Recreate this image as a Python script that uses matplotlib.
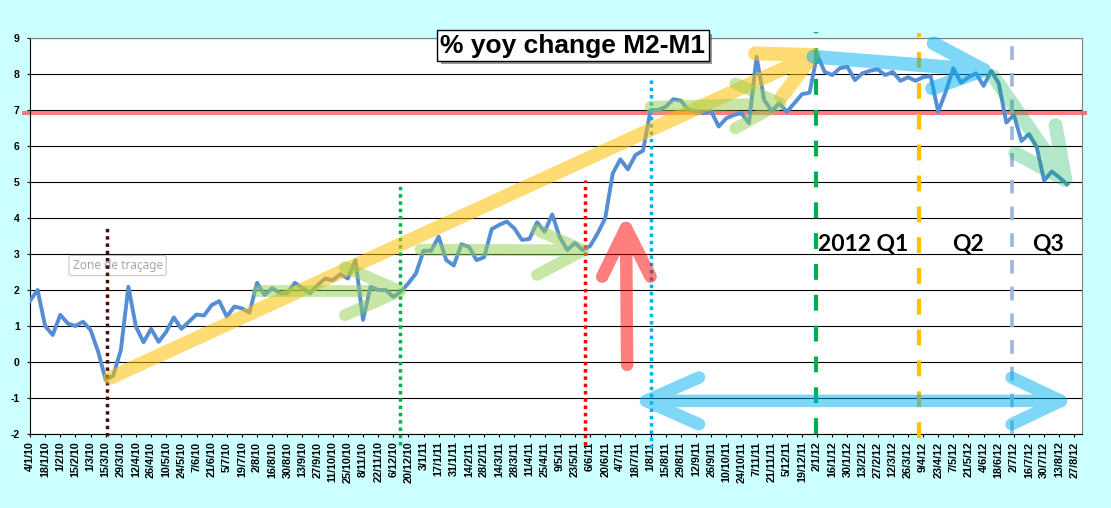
import matplotlib
matplotlib.use("Agg")
import matplotlib.pyplot as plt
import matplotlib.patheffects as pe
from matplotlib.patches import PathPatch
from matplotlib.path import Path

plt.rcParams["font.family"] = ["Liberation Sans", "DejaVu Sans"]

# weekly % yoy change M2-M1, one value per week starting 4/1/10
WEEK_VALUES = [
    1.70, 2.00, 1.00, 0.75, 1.31, 1.07, 1.00, 1.12, 0.89, 0.29,
    -0.50, -0.38, 0.33, 2.09, 0.98, 0.55, 0.92, 0.56, 0.84, 1.24,
    0.92, 1.12, 1.32, 1.29, 1.58, 1.69, 1.26, 1.54, 1.49, 1.37,
    2.20, 1.86, 2.05, 1.91, 1.91, 2.20, 2.05, 1.91, 2.14, 2.32,
    2.27, 2.44, 2.32, 2.83, 1.17, 2.09, 2.00, 2.00, 1.81, 1.95,
    2.19, 2.46, 3.09, 3.09, 3.48, 2.83, 2.68, 3.27, 3.20, 2.83,
    2.91, 3.69, 3.81, 3.90, 3.71, 3.39, 3.42, 3.88, 3.62, 4.10,
    3.46, 3.11, 3.31, 3.11, 3.22, 3.57, 3.99, 5.24, 5.63, 5.35,
    5.75, 5.87, 7.00, 7.00, 7.09, 7.30, 7.26, 7.00, 6.97, 6.91,
    6.97, 6.54, 6.77, 6.86, 6.91, 6.63, 8.48, 7.28, 6.97, 7.19,
    6.95, 7.19, 7.44, 7.48, 8.53, 8.06, 7.97, 8.16, 8.20, 7.83,
    8.02, 8.09, 8.13, 7.97, 8.06, 7.81, 7.91, 7.81, 7.91, 7.94,
    6.95, 7.51, 8.16, 7.76, 7.91, 8.02, 7.67, 8.09, 7.74, 6.65,
    6.86, 6.14, 6.33, 5.98, 5.04, 5.29, 5.13, 4.94,
]

# one label every second week
TICK_LABELS = [
    "4/1/10", "18/1/10", "1/2/10", "15/2/10", "1/3/10", "15/3/10", "29/3/10",
    "12/4/10", "26/4/10", "10/5/10", "24/5/10", "7/6/10", "21/6/10", "5/7/10",
    "19/7/10", "2/8/10", "16/8/10", "30/8/10", "13/9/10", "27/9/10", "11/10/10",
    "25/10/10", "8/11/10", "22/11/10", "6/12/10", "20/12/10",
    "3/1/11", "17/1/11", "31/1/11", "14/2/11", "28/2/11", "14/3/11", "28/3/11",
    "11/4/11", "25/4/11", "9/5/11", "23/5/11", "6/6/11", "20/6/11", "4/7/11",
    "18/7/11", "1/8/11", "15/8/11", "29/8/11", "12/9/11", "26/9/11", "10/10/11",
    "24/10/11", "7/11/11", "21/11/11", "5/12/11", "19/12/11",
    "2/1/12", "16/1/12", "30/1/12", "13/2/12", "27/2/12", "12/3/12", "26/3/12",
    "9/4/12", "23/4/12", "7/5/12", "21/5/12", "4/6/12", "18/6/12", "2/7/12",
    "16/7/12", "30/7/12", "13/8/12", "27/8/12",
]
Y_TICKS = list(range(-2, 10))
THRESHOLD = 6.93

# vertical markers (week position, top, bottom, colour, dashes, width)
MARKER_X = [10.2, 48.9, 73.3, 82.05, 103.8, 117.5, 129.7]
MARKER_TOP = [3.76, 4.92, 5.06, 7.93, 9.17, 9.14, 8.94]
MARKER_BOTTOM = [-2.05, -2.3, -2.3, -2.4, -2.0, -2.1, -2.0]
MARKER_COLORS = ["#4d0a0a", "#00b050", "#ff0000", "#00b0f0", "#00b050", "#ffc000", "#9bb7de"]
MARKER_DASHES = [(1, 1.1), (1, 1.1), (1, 1.1), (1, 1.1), (3.8, 3.6), (3.8, 3.6), (3.8, 3.6)]
MARKER_WIDTHS = [2.5, 2.5, 2.5, 2.5, 3.0, 3.0, 2.6]

# highlighter arrows: shaft start, tip, head ends, colour, alpha, width
ARROWS = [
    ((10.6, -0.44), (103.5, 8.53), [(95.8, 8.57), (99.3, 7.36)], "#ffc000", 0.55, 10),
    ((30.1, 1.97), (48.9, 1.97), [(41.6, 2.64), (41.6, 1.30)], "#92d050", 0.5, 8.5),
    ((51.6, 3.12), (73.1, 3.10), [(67.0, 3.67), (67.0, 2.42)], "#92d050", 0.5, 8.5),
    ((82.0, 7.09), (99.1, 7.18), [(93.2, 7.74), (93.2, 6.49)], "#92d050", 0.5, 8.5),
    ((103.5, 8.48), (126.0, 8.11), [(119.4, 8.85), (119.2, 7.60)], "#00b0f0", 0.5, 10),
    ((127.3, 7.93), (136.8, 5.06), [(135.5, 6.58), (130.2, 5.80)], "#00b050", 0.3, 10),
    ((78.9, -0.08), (78.75, 3.72), [(75.6, 2.37), (82.0, 2.37)], "#ff0000", 0.5, 9),
]
BOTH_WAYS = ((81.4, -1.08), (136.2, -1.08),
             [(88.4, -0.43), (88.4, -1.73)], [(129.7, -0.43), (129.7, -1.73)])

QUARTERS = ["2012 Q1", "Q2", "Q3"]
QUARTER_X = [104.1, 124.0, 134.5]
QUARTER_ALIGN = ["left", "center", "center"]


def chevron(ax, shaft, heads, color, alpha, width):
    verts, codes = [], []
    for a, b in shaft:
        verts += [a, b]
        codes += [Path.MOVETO, Path.LINETO]
    for tip, (h1, h2) in heads:
        verts += [h1, tip, h2]
        codes += [Path.MOVETO, Path.LINETO, Path.LINETO]
    patch = PathPatch(Path(verts, codes), fill=False, edgecolor=color, alpha=alpha,
                      linewidth=width, capstyle="round", joinstyle="round",
                      zorder=6, clip_on=False)
    ax.add_patch(patch)


fig = plt.figure(figsize=(11.11, 5.08), dpi=100, facecolor="#ccffff")
ax = fig.add_axes([30 / 1111, 1 - 434 / 508, 1052 / 1111, 396 / 508])
ax.set_facecolor("white")

weeks = list(range(len(WEEK_VALUES)))
ax.set_xlim(0, 139)
ax.set_ylim(-2, 9)
ax.set_yticks(Y_TICKS)
ax.set_yticklabels([str(v) for v in Y_TICKS], fontsize=7.5, fontweight="bold")
ax.set_xticks(range(0, 2 * len(TICK_LABELS), 2))
ax.set_xticklabels(TICK_LABELS, rotation=90, fontsize=7.8, fontweight="bold")
ax.tick_params(axis="y", length=2.4, width=0.8, pad=5)
ax.tick_params(axis="x", length=2.4, width=0.8, pad=3)
ax.grid(axis="y", color="black", linewidth=0.8)
ax.set_axisbelow(True)
for side in ("top", "right"):
    ax.spines[side].set_color("#808080")
for side in ("left", "bottom"):
    ax.spines[side].set_color("black")

ax.plot([-1.1, 139.7], [THRESHOLD, THRESHOLD], color="#ff0000", alpha=0.5,
        linewidth=3, solid_capstyle="butt", zorder=2, clip_on=False)
ax.plot(weeks, WEEK_VALUES, color="#558ed5", linewidth=2.8, zorder=3,
        solid_joinstyle="round")

for x, top, bot, col, dash, lw in zip(MARKER_X, MARKER_TOP, MARKER_BOTTOM,
                                      MARKER_COLORS, MARKER_DASHES, MARKER_WIDTHS):
    ax.plot([x, x], [bot, top], color=col, linewidth=lw, dashes=dash,
            dash_capstyle="butt", zorder=5, clip_on=False)

for start, tip, head, col, alpha, width in ARROWS:
    chevron(ax, [(start, tip)], [(tip, head)], col, alpha, width)
left, right, left_head, right_head = BOTH_WAYS
chevron(ax, [(left, right)], [(left, left_head), (right, right_head)], "#00b0f0", 0.5, 9)

for label, x, ha in zip(QUARTERS, QUARTER_X, QUARTER_ALIGN):
    ax.text(x, 3.08, label, ha=ha, va="baseline", fontsize=16.5, fontweight="bold",
            family=["Lato", "DejaVu Sans"], zorder=7)

ax.text(11.57, 2.68, "Zone de traçage", ha="center", va="center", fontsize=8.5,
        color="#a6a6a6", family=["Noto Sans", "DejaVu Sans"], zorder=4,
        bbox=dict(boxstyle="round,pad=0.3,rounding_size=0.2", fc="white",
                  ec="#c8c8c8", lw=0.8))

title = fig.text(573 / 1111, 1 - 45.5 / 508, "% yoy change M2-M1", ha="center",
                 va="center", fontsize=19, fontweight="bold", zorder=10,
                 bbox=dict(boxstyle="square,pad=0.12", fc="white", ec="black", lw=1))
title.get_bbox_patch().set_path_effects(
    [pe.SimplePatchShadow(offset=(2.5, -2.5), shadow_rgbFace="#555555", alpha=0.6), pe.Normal()])

fig.savefig("out.png", dpi=100, facecolor=fig.get_facecolor())
